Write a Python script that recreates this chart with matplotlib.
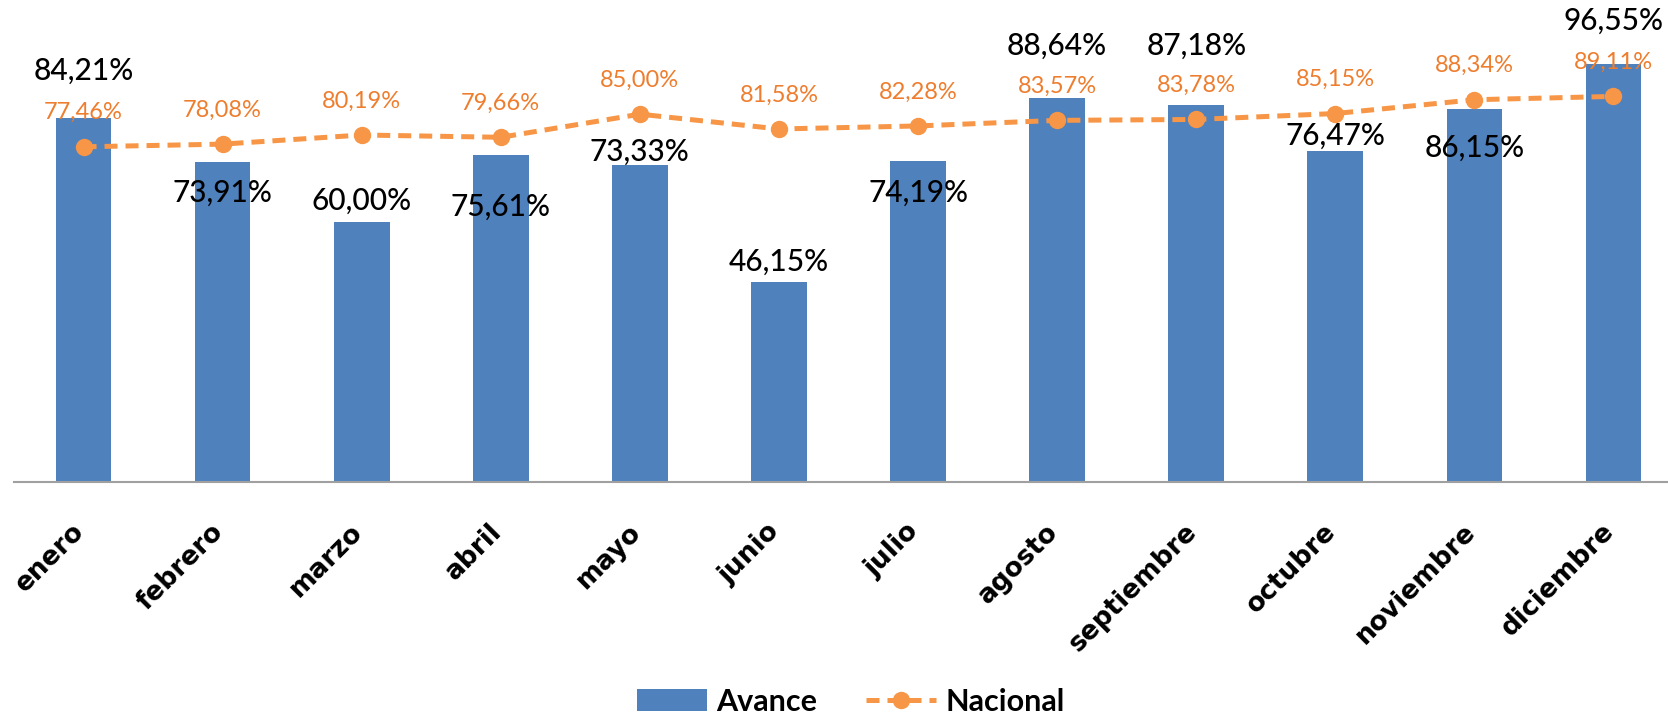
import numpy as np
import matplotlib.pyplot as plt
from matplotlib.transforms import ScaledTranslation

meses = ['enero', 'febrero', 'marzo', 'abril', 'mayo', 'junio', 'julio',
         'agosto', 'septiembre', 'octubre', 'noviembre', 'diciembre']
avance = [84.21, 73.91, 60.00, 75.61, 73.33, 46.15, 74.19, 88.64, 87.18, 76.47, 86.15, 96.55]
nacional = [77.46, 78.08, 80.19, 79.66, 85.00, 81.58, 82.28, 83.57, 83.78, 85.15, 88.34, 89.11]

# desplazamiento vertical (pixeles) de las etiquetas de las barras, como en el original
desp_barras = [47, -31, 22, -52, 13, 21, -32, 53, 59, 15, -39, 43]

azul = '#4F81BD'
naranja = '#F79646'
naranja_txt = '#EE7D2E'

def pct(v):
    return f'{v:.2f}%'.replace('.', ',')

fig = plt.figure(figsize=(16.68, 7.16), dpi=100)
ax = fig.add_axes([14 / 1668, 234 / 716, 1669 / 1668, 476 / 716])

x = np.arange(len(meses))
barras = ax.bar(x, avance, width=0.4, color=azul, label='Avance', zorder=2)
linea, = ax.plot(x, nacional, color=naranja, lw=3.6, ls=(0, (2.6, 1.6)), marker='o', ms=11.5,
                 label='Nacional', zorder=3)

for i, v in enumerate(avance):
    ax.annotate(pct(v), (x[i], v), xytext=(0, desp_barras[i]), textcoords='offset pixels',
                ha='center', va='center', fontsize=21.5, color='black',
                family='Lato', fontweight='medium', zorder=4)

for i, v in enumerate(nacional):
    ax.annotate(pct(v), (x[i], v), xytext=(0, 34), textcoords='offset pixels',
                ha='center', va='center', fontsize=17, color=naranja_txt,
                family='Lato', zorder=4)

ax.set_xlim(-0.5, 11.5)
ax.set_ylim(0, 110)
ax.set_yticks([])
ax.set_xticks(x)
ax.set_xticklabels(meses, rotation=45, ha='right', va='center', rotation_mode='anchor',
                   fontsize=19, fontweight='bold', family='DejaVu Sans')
ax.tick_params(axis='x', length=0, pad=33)
desplazar = ScaledTranslation(-3 / 100, 0, fig.dpi_scale_trans)
for lab in ax.get_xticklabels():
    lab.set_transform(lab.get_transform() + desplazar)
for s in ['top', 'right', 'left']:
    ax.spines[s].set_visible(False)
ax.spines['bottom'].set_color('#A0A0A0')
ax.spines['bottom'].set_linewidth(1.5)

fig.legend([barras, linea], ['Avance', 'Nacional'], loc='lower center',
           bbox_to_anchor=(0.51, -0.038), ncol=2, frameon=False,
           prop={'family': 'Lato', 'weight': 'bold', 'size': 22},
           handlelength=2.3, handletextpad=0.3, columnspacing=1.6)

fig.savefig('out.png', dpi=100)
